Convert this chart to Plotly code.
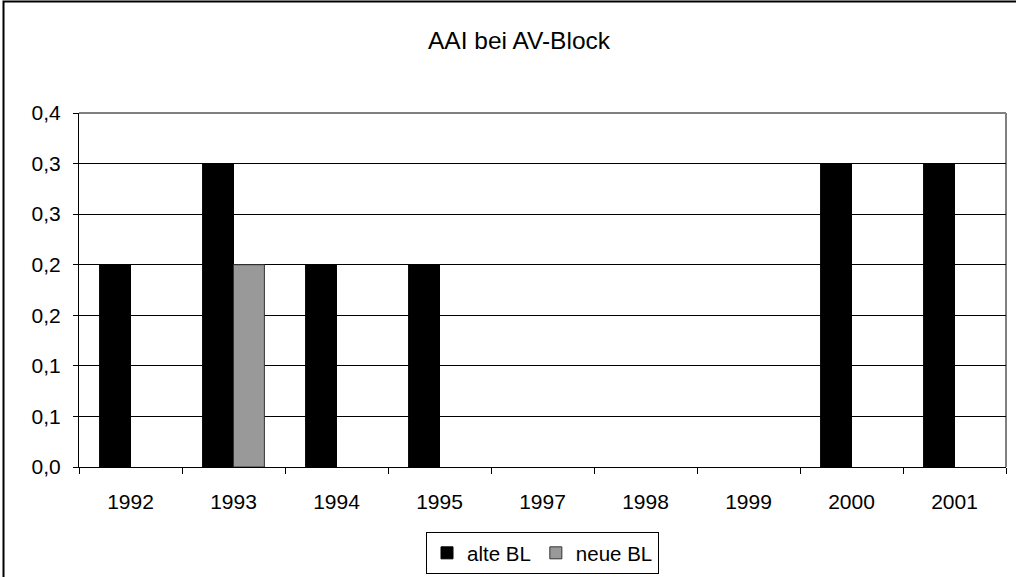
# AAI bei AV-Block - grouped bars, Excel look
import plotly.graph_objects as go

# -----------------------------------------------------------------------------
# DATA
# -----------------------------------------------------------------------------
years = ["1992", "1993", "1994", "1995", "1997", "1998", "1999", "2000", "2001"]
alte_bl = [0.2, 0.3, 0.2, 0.2, None, None, None, 0.3, 0.3]
neue_bl = [None, 0.2, None, None, None, None, None, None, None]

y_ticks = [0, 0.05, 0.1, 0.15, 0.2, 0.25, 0.3, 0.35]
y_ticktext = ["0,0", "0,1", "0,1", "0,2", "0,2", "0,3", "0,3", "0,4"]

# -----------------------------------------------------------------------------
# VISUALISATION
# -----------------------------------------------------------------------------
font_name = "Liberation Sans, Arial, sans-serif"

fig = go.Figure()

fig.add_trace(go.Bar(
    x = years,
    y = alte_bl,
    name = "alte BL",
    marker_color = "#000000",
    marker_line = dict(color = "#000000", width = 1)
))

fig.add_trace(go.Bar(
    x = years,
    y = neue_bl,
    name = "neue BL",
    marker_color = "#999999",
    marker_line = dict(color = "#333333", width = 1)
))

fig.update_layout(
    width = 1016,
    height = 577,
    margin = dict(l = 79, r = 10, t = 113, b = 110, autoexpand = False),
    paper_bgcolor = "white",
    plot_bgcolor = "white",
    barmode = "group",
    bargap = 0.4,
    bargroupgap = 0,
    font = dict(family = font_name, size = 21, color = "black"),
    title = dict(
        text = "AAI bei AV-Block",
        x = (519 - 79) / 927, xref = "paper", xanchor = "center",
        y = 1 - 40 / 577, yanchor = "middle",
        font = dict(size = 24.5, color = "black")
    ),
    legend = dict(
        orientation = "h",
        x = 0.5, xanchor = "center",
        y = (467 - 553) / 354, yanchor = "middle",
        bordercolor = "black",
        borderwidth = 1,
        bgcolor = "white",
        font = dict(size = 20.5),
        itemwidth = 30,
        tracegroupgap = 0
    ),
    showlegend = True
)

fig.update_xaxes(
    type = "category",
    showline = True, linecolor = "black", linewidth = 1,
    ticks = "outside", tickson = "boundaries", ticklen = 6,
    tickcolor = "black", tickwidth = 1,
    ticklabelstandoff = 16,
    showgrid = False,
    zeroline = False
)

fig.update_yaxes(
    range = [0, 0.35],
    tickvals = y_ticks,
    ticktext = y_ticktext,
    showline = True, linecolor = "black", linewidth = 1,
    ticks = "outside", ticklen = 5, tickcolor = "black", tickwidth = 1,
    ticklabelstandoff = 8,
    showgrid = True, gridcolor = "black", gridwidth = 1,
    zeroline = False
)

# grey top and right edge of the plot area
fig.add_shape(type = "line", xref = "x domain", yref = "y domain",
              x0 = 0, x1 = 1, y0 = 1, y1 = 1,
              line = dict(color = "#808080", width = 2), layer = "above")
fig.add_shape(type = "line", xref = "x domain", yref = "y domain",
              x0 = 1, x1 = 1, y0 = 0, y1 = 1,
              line = dict(color = "#808080", width = 2), layer = "below")

# outer chart frame
fig.add_shape(type = "rect", xref = "paper", yref = "paper",
              x0 = -75.5 / 927, x1 = 1.1, y0 = -0.5, y1 = 465.5 / 354,
              line = dict(color = "black", width = 2), layer = "below")

fig.write_html("out.html", config = {"displayModeBar": False},
               post_script = "document.body.style.margin = '0';")
